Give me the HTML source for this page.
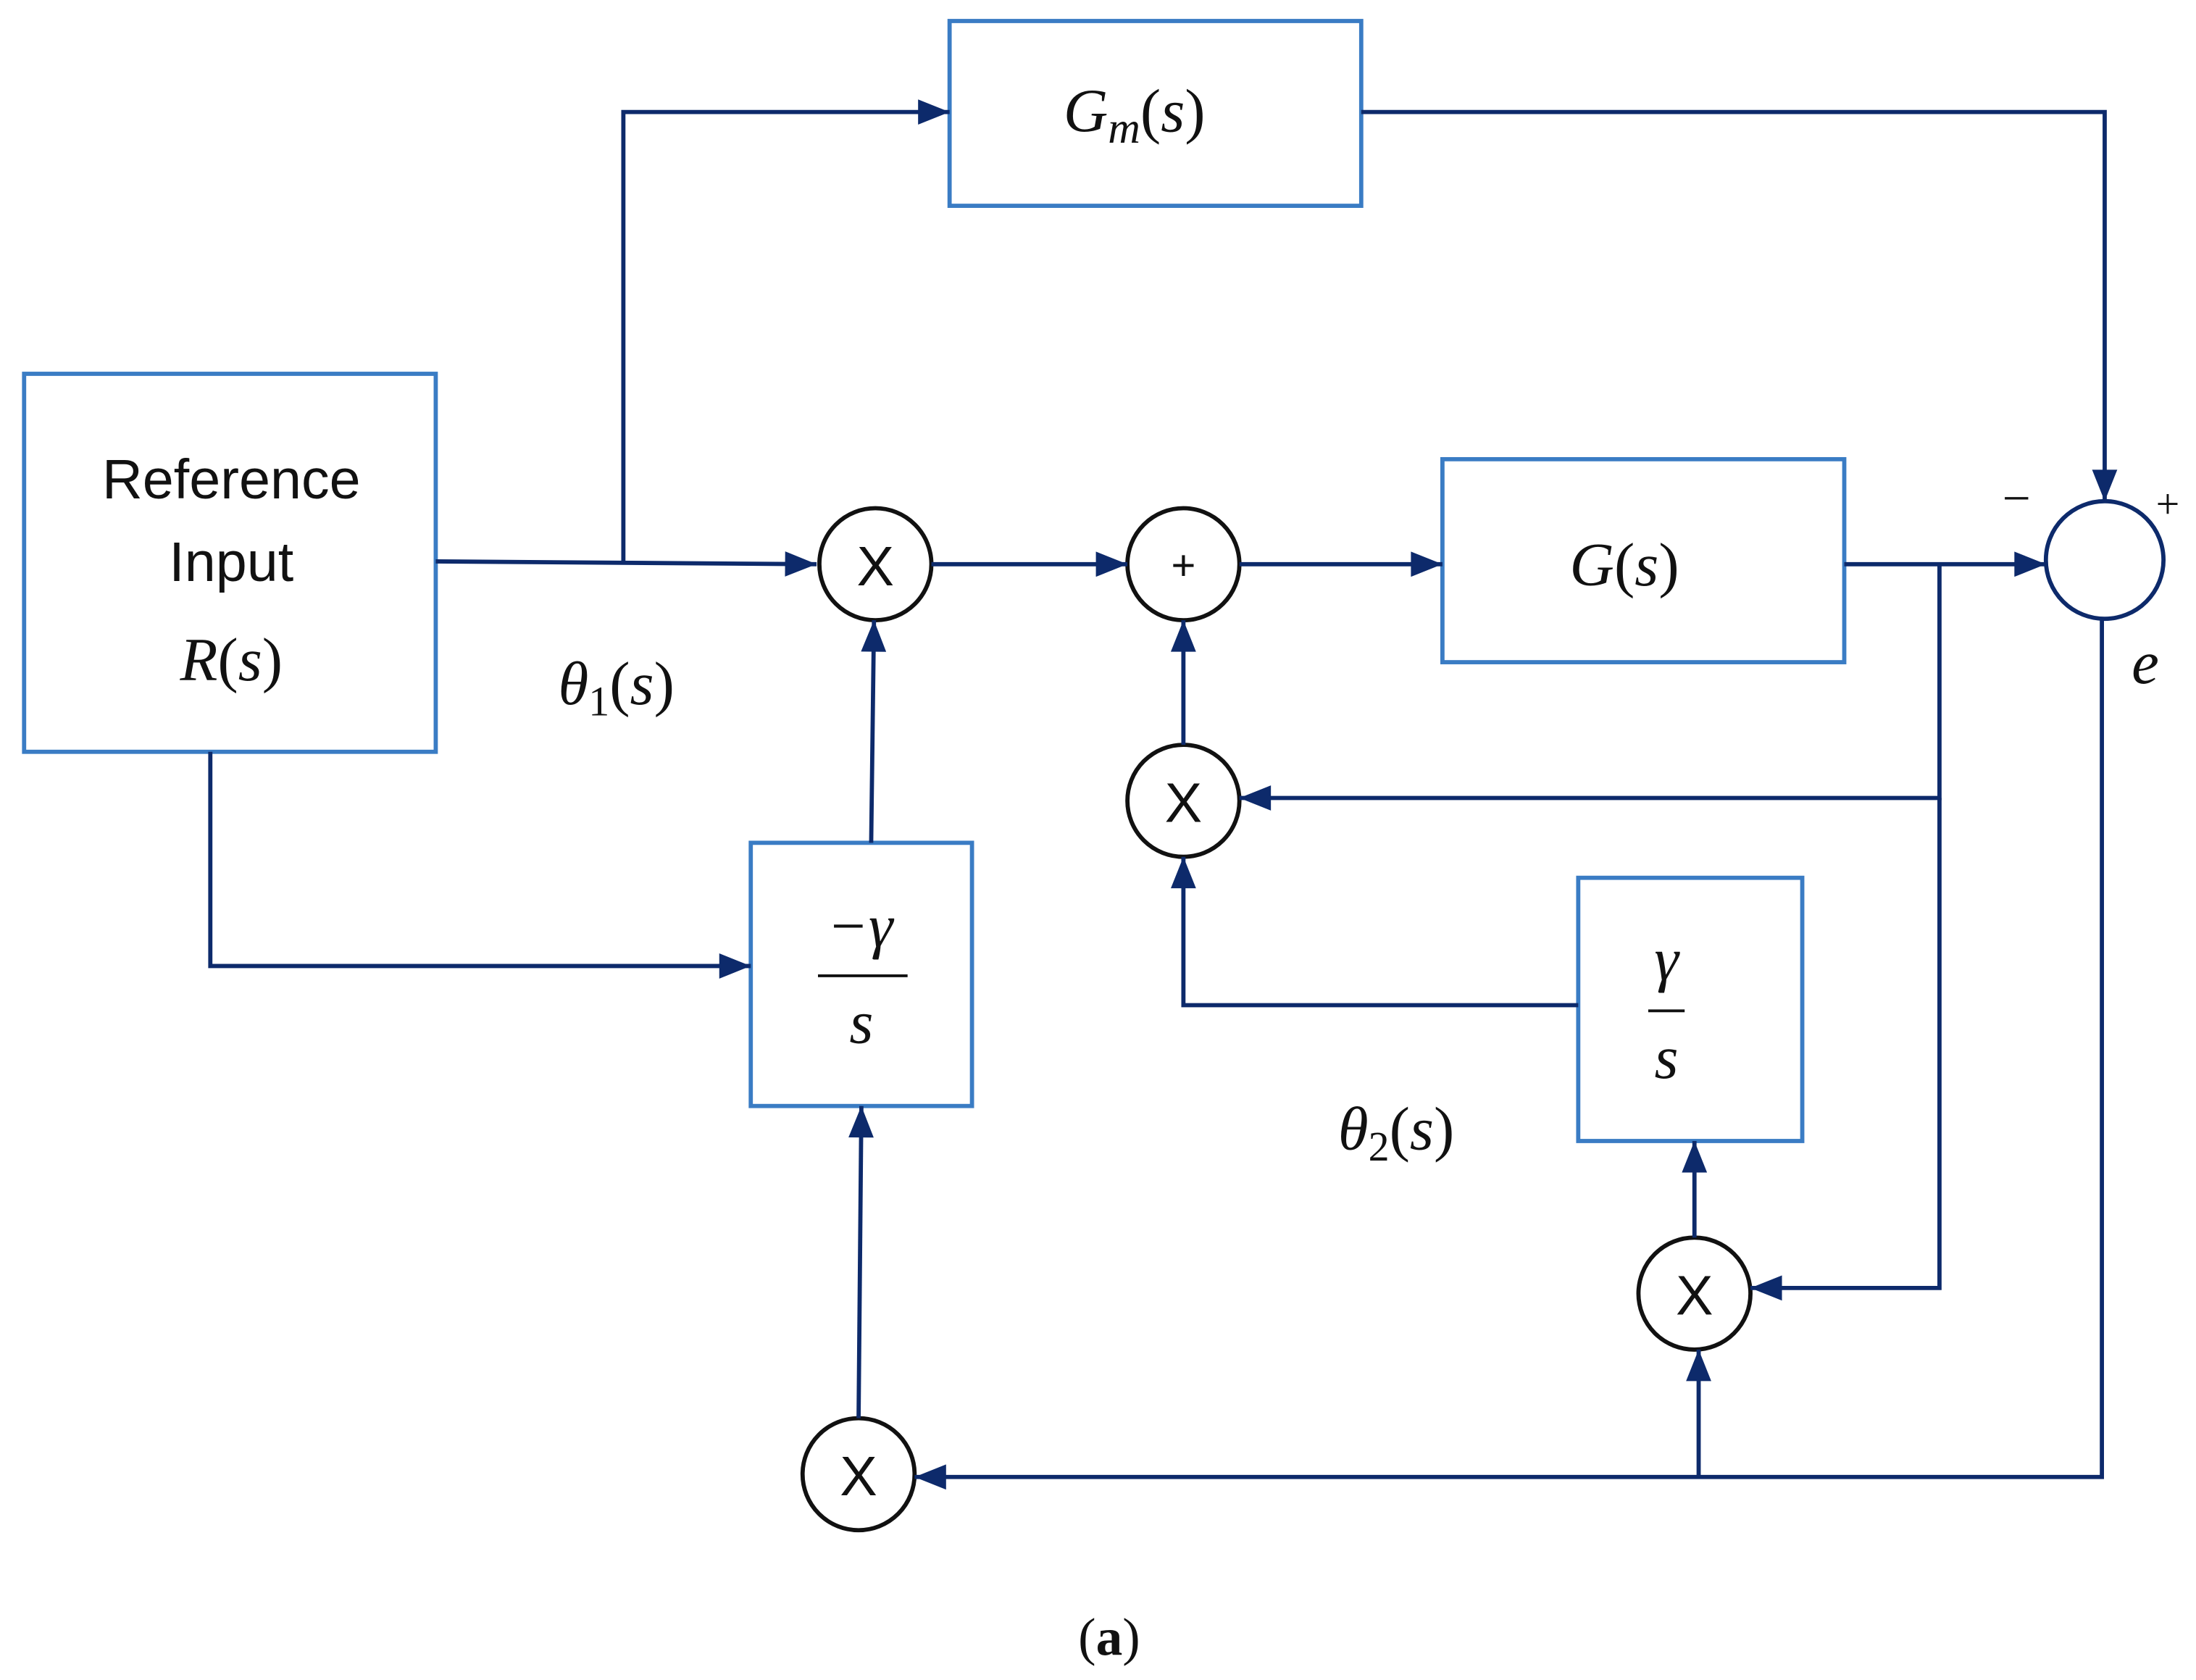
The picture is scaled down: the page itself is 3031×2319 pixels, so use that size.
<!DOCTYPE html>
<html><head><meta charset="utf-8"><style>
html,body{margin:0;padding:0;background:#fff;}
svg{display:block;}
text{font-family:"Liberation Serif",serif;fill:#111;}
.it{font-style:italic;}
.sans{font-family:"Liberation Sans",sans-serif;}
</style></head><body>
<svg width="3031" height="2319" viewBox="0 0 1568 1200" xmlns="http://www.w3.org/2000/svg">
<defs>
<marker id="a" viewBox="0 0 10 8" refX="10" refY="4" markerWidth="24" markerHeight="18" markerUnits="userSpaceOnUse" orient="auto">
<path d="M0,0 L10,4 L0,8 z" fill="#0d2a6b"/></marker>
</defs>
<g fill="none" stroke="#3a7cc4" stroke-width="3">
<rect x="678" y="15" width="294" height="132"/>
<rect x="17" y="267" width="294" height="270"/>
<rect x="1030" y="328" width="287" height="145"/>
<rect x="536" y="602" width="158" height="188"/>
<rect x="1127" y="627" width="160" height="188"/>
</g>
<g fill="none" stroke="#111" stroke-width="3">
<circle cx="625" cy="403" r="40"/>
<circle cx="845" cy="403" r="40"/>
<circle cx="1503" cy="400" r="42" stroke="#0d2a6b"/>
<circle cx="845" cy="572" r="40"/>
<circle cx="1210" cy="924" r="40"/>
<circle cx="613" cy="1053" r="40"/>
</g>
<g fill="none" stroke="#0d2a6b" stroke-width="3" marker-end="url(#a)">
<path d="M311 401 L583 403"/>
<path d="M445 401 L445 80 L678 80"/>
<path d="M972 80 L1503 80 L1503 358"/>
<path d="M665 403 L805 403"/>
<path d="M885 403 L1030 403"/>
<path d="M1317 403 L1461 403"/>
<path d="M1385 403 L1385 570 L885 570"/>
<path d="M1385 570 L1385 920 L1250 920"/>
<path d="M845 532 L845 443"/>
<path d="M1127 718 L845 718 L845 612"/>
<path d="M1210 884 L1210 815"/>
<path d="M1501 442 L1501 1055 L653 1055"/>
<path d="M1213 1055 L1213 964"/>
<path d="M613 1013 L615 790"/>
<path d="M622 602 L624 443"/>
<path d="M150 537 L150 690 L536 690"/>
</g>
<g font-size="44" text-anchor="middle">
<text x="810" y="94" class="it">G<tspan font-size="32" dy="8">m</tspan><tspan dy="-8" font-style="normal">(</tspan>s<tspan font-style="normal">)</tspan></text>
<text x="165" y="356" class="sans" font-size="40">Reference</text>
<text x="165" y="415" class="sans" font-size="40">Input</text>
<text x="165" y="486" class="it">R<tspan font-style="normal">(</tspan>s<tspan font-style="normal">)</tspan></text>
<text x="1160" y="418" class="it">G<tspan font-style="normal">(</tspan>s<tspan font-style="normal">)</tspan></text>
<text x="625" y="418" class="sans" font-size="40">X</text>
<text x="845" y="414" class="sans" font-size="30">+</text>
<text x="845" y="587" class="sans" font-size="40">X</text>
<text x="1210" y="939" class="sans" font-size="40">X</text>
<text x="613" y="1068" class="sans" font-size="40">X</text>
<text x="614" y="676" class="it">−γ</text>
<line x1="584" y1="697" x2="648" y2="697" stroke="#111" stroke-width="2"/>
<text x="615" y="745" class="it">s</text>
<text x="1190" y="700" class="it">γ</text>
<line x1="1177" y1="722" x2="1203" y2="722" stroke="#111" stroke-width="2"/>
<text x="1190" y="770" class="it">s</text>
<text x="440" y="503" class="it">θ<tspan font-size="30" dy="8" font-style="normal">1</tspan><tspan dy="-8" font-style="normal">(</tspan>s<tspan font-style="normal">)</tspan></text>
<text x="997" y="821" class="it">θ<tspan font-size="30" dy="8" font-style="normal">2</tspan><tspan dy="-8" font-style="normal">(</tspan>s<tspan font-style="normal">)</tspan></text>
<text x="1440" y="368" font-size="36">−</text>
<text x="1548" y="370" font-size="30">+</text>
<text x="1532" y="488" class="it">e</text>
<text x="792" y="1182" font-size="38">(<tspan font-weight="bold">a</tspan>)</text>
</g>
</svg>
</body></html>
